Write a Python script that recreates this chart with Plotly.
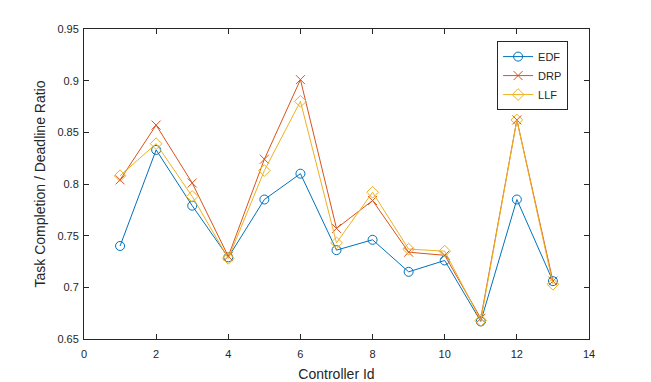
import plotly.graph_objects as go

# Controller ids and per-scheduler ratios
controller_id = [1, 2, 3, 4, 5, 6, 7, 8, 9, 10, 11, 12, 13]
edf = [0.740, 0.833, 0.779, 0.729, 0.785, 0.810, 0.736, 0.746, 0.715, 0.726, 0.667, 0.785, 0.706]
drp = [0.804, 0.857, 0.801, 0.730, 0.824, 0.901, 0.757, 0.784, 0.734, 0.731, 0.670, 0.862, 0.706]
llf = [0.808, 0.839, 0.788, 0.728, 0.813, 0.880, 0.743, 0.792, 0.737, 0.735, 0.668, 0.862, 0.703]

x_ticks = [0, 2, 4, 6, 8, 10, 12, 14]
y_ticks = [0.65, 0.7, 0.75, 0.8, 0.85, 0.9, 0.95]
y_tick_text = ["0.65", "0.7", "0.75", "0.8", "0.85", "0.9", "0.95"]

fig = go.Figure()

series = [
    ("EDF", edf, "#0072BD", "circle-open"),
    ("DRP", drp, "#D95319", "x-thin-open"),
    ("LLF", llf, "#EDB120", "diamond-open"),
]
for name, vals, color, symbol in series:
    fig.add_trace(go.Scatter(
        x=controller_id, y=vals, name=name, mode="lines+markers",
        line=dict(color=color, width=1),
        marker=dict(symbol=symbol, size=9, color=color, line=dict(color=color, width=1)),
        cliponaxis=False,
    ))

axis_style = dict(
    showline=True, linecolor="#262626", linewidth=1, mirror="ticks",
    ticks="inside", ticklen=5, tickcolor="#262626", showgrid=False, zeroline=False,
    tickfont=dict(size=11, color="#262626"), automargin=False,
)

fig.update_layout(
    width=651, height=382,
    margin=dict(l=84, r=62, t=29, b=43),
    paper_bgcolor="white", plot_bgcolor="white",
    font=dict(family="Liberation Sans, Arial, sans-serif", color="#262626"),
    legend=dict(x=0.818, y=0.961, xanchor="left", yanchor="top",
                bordercolor="#262626", borderwidth=1, bgcolor="white",
                font=dict(size=11), tracegroupgap=0, itemwidth=30),
    showlegend=True,
)
fig.update_xaxes(range=[0, 14], tickvals=x_ticks, ticklabelstandoff=5,
                 title=dict(text="Controller Id", font=dict(size=14), standoff=9), **axis_style)
fig.update_yaxes(range=[0.65, 0.95], tickvals=y_ticks, ticktext=y_tick_text, ticklabelstandoff=2,
                 title=dict(text="Task Completion / Deadline Ratio", font=dict(size=14), standoff=8),
                 **axis_style)

# drop the default page margin so the figure sits at the window origin
fig.write_html("out.html", config={"displayModeBar": False},
               post_script="document.body.style.margin='0px';document.body.style.overflow='hidden';")
